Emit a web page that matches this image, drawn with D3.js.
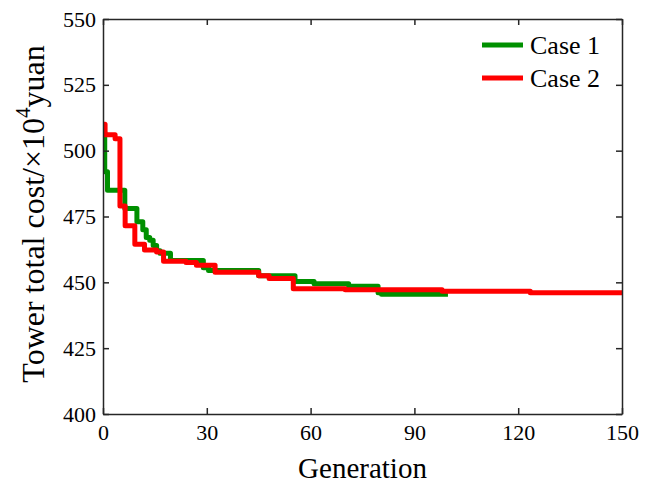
<!DOCTYPE html>
<html>
<head>
<meta charset="utf-8">
<script src="https://cdn.jsdelivr.net/npm/d3@7"></script>
<style>
  body { margin: 0; background: #fff; }
  text { font-family: "Liberation Serif", "Times New Roman", serif; }
</style>
</head>
<body>
<div id="chart"></div>
<script>
// Convergence curves (generation, cost in 10^4 yuan)
const case1Gen = [0, 0.5, 1.3, 6.3, 9.8, 11.5, 12.5, 13.5, 14.5, 15.5, 16.5, 19.5, 29, 30.5, 45, 55.5, 61, 71, 79.5, 80.5, 99.7];
const case1Cost = [507, 492, 485, 478, 473, 470, 467, 466, 464, 462, 461, 458.3, 455.5, 454.5, 452.5, 450.3, 449.5, 448.5, 446, 445.5, 445.5];

const case2Gen = [0, 0.6, 3.5, 4.9, 6.4, 9.2, 12, 15.5, 17.5, 24, 27, 32.4, 45, 48, 55, 70, 98, 123.5, 150];
const case2Cost = [510, 506, 504.5, 479, 471.5, 464.5, 462.3, 461.5, 458, 457.5, 456.5, 453.8, 452.5, 451.5, 447.6, 447.2, 446.6, 446, 445.7];

const xTicks = [0, 30, 60, 90, 120, 150];
const yTicks = [400, 425, 450, 475, 500, 525, 550];
const seriesNames = ['Case 1', 'Case 2'];
const seriesColors = ['#009000', '#ff0000'];

const config = {
  width: 656, height: 487,
  margin: {top: 19, right: 34, bottom: 73, left: 103}
};
const w = config.width - config.margin.left - config.margin.right;
const h = config.height - config.margin.top - config.margin.bottom;

const svg = d3.select('#chart').append('svg')
  .attr('width', config.width)
  .attr('height', config.height);

const g = svg.append('g')
  .attr('transform', `translate(${config.margin.left},${config.margin.top})`);

const xScale = d3.scaleLinear().domain([0, 150]).range([0, w]);
const yScale = d3.scaleLinear().domain([400, 550]).range([h, 0]);

// Curves
const series = [
  case1Gen.map((x, i) => ({x, y: case1Cost[i]})),
  case2Gen.map((x, i) => ({x, y: case2Cost[i]}))
];
const line = d3.line()
  .x(d => xScale(d.x))
  .y(d => yScale(d.y))
  .curve(d3.curveStepAfter);

g.append('clipPath').attr('id', 'clip')
  .append('rect').attr('width', w).attr('height', h);

g.append('g').attr('clip-path', 'url(#clip)')
  .selectAll('path.curve')
  .data(series)
  .join('path')
  .attr('class', 'curve')
  .attr('d', line)
  .attr('fill', 'none')
  .attr('stroke', (d, i) => seriesColors[i])
  .attr('stroke-width', 5)
  .attr('stroke-linejoin', 'round');

// Axes, MATLAB-like box with inward ticks
const styleAxis = sel => {
  sel.select('.domain').attr('stroke', '#262626').attr('stroke-width', 1.5);
  sel.selectAll('.tick line').attr('stroke', '#262626').attr('stroke-width', 1.5);
  sel.selectAll('text').attr('fill', '#000').style('font-size', '22px')
    .style('font-family', '"Liberation Serif", serif');
};

g.append('g')
  .attr('transform', `translate(0,${h})`)
  .call(d3.axisBottom(xScale).tickValues(xTicks).tickSizeInner(-6).tickSizeOuter(0).tickPadding(10))
  .call(styleAxis);

g.append('g')
  .call(d3.axisTop(xScale).tickValues(xTicks).tickSizeInner(-6).tickSizeOuter(0).tickFormat(''))
  .call(styleAxis);

g.append('g')
  .call(d3.axisLeft(yScale).tickValues(yTicks).tickSizeInner(-6).tickSizeOuter(0).tickPadding(7))
  .call(styleAxis);

g.append('g')
  .attr('transform', `translate(${w},0)`)
  .call(d3.axisRight(yScale).tickValues(yTicks).tickSizeInner(-6).tickSizeOuter(0).tickFormat(''))
  .call(styleAxis);

// Axis titles
svg.append('text')
  .attr('x', config.margin.left + w / 2)
  .attr('y', 478)
  .attr('text-anchor', 'middle')
  .style('font-size', '29px')
  .text('Generation');

const yTitle = svg.append('text')
  .attr('transform', 'translate(44,214) rotate(-90)')
  .attr('text-anchor', 'middle')
  .style('font-size', '32px');
yTitle.append('tspan').text('Tower total cost/\u00d710');
yTitle.append('tspan').attr('dy', -14).style('font-size', '21px').text('4');
yTitle.append('tspan').attr('dy', 14).text('yuan');

// Legend
const legend = g.append('g').attr('transform', `translate(${w - 140},26)`);
const items = legend.selectAll('g.item')
  .data(seriesNames)
  .join('g')
  .attr('class', 'item')
  .attr('transform', (d, i) => `translate(0,${i * 33})`);
items.append('line')
  .attr('x1', 0).attr('x2', 41)
  .attr('stroke', (d, i) => seriesColors[i])
  .attr('stroke-width', 5);
items.append('text')
  .attr('x', 48).attr('dy', '0.35em')
  .style('font-size', '26px')
  .text(d => d);
</script>
</body>
</html>
